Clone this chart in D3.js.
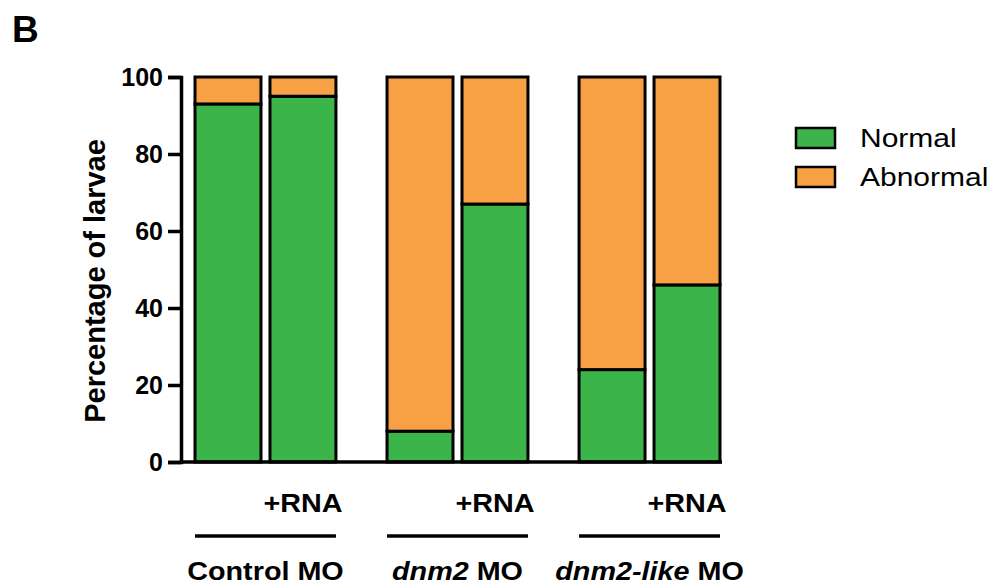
<!DOCTYPE html>
<html>
<head>
<meta charset="utf-8">
<script src="https://cdn.jsdelivr.net/npm/d3@7"></script>
<style>
  html, body { margin: 0; padding: 0; background: #fff; }
  svg { display: block; font-family: "Liberation Sans", Arial, sans-serif; }
</style>
</head>
<body>
<svg id="chart" width="995" height="588"></svg>
<script>
// ---- data ----
const groups = ["Control MO", "dnm2 MO", "dnm2-like MO"];
const conditions = ["", "+RNA"];
const normalValues = [93, 95, 8, 67, 24, 46];   // % Normal per bar (group order, condition order)
const abnormalValues = normalValues.map(v => 100 - v);
const seriesNames = ["Normal", "Abnormal"];
const seriesColors = ["#3BB44A", "#F8A044"];
const yTicks = [0, 20, 40, 60, 80, 100];

// ---- layout ----
const svg = d3.select("#chart");
const axisX = 181;
const y = d3.scaleLinear().domain([0, 100]).range([462, 77]);

const xGroup = d3.scaleBand().domain(groups).range([195, 720]).paddingInner(0.266).paddingOuter(0);
const xBar = d3.scaleBand().domain(conditions).range([0, xGroup.bandwidth()]).paddingInner(0.12);

const bars = [];
groups.forEach((g, gi) => conditions.forEach((c, ci) => {
  const i = gi * conditions.length + ci;
  bars.push({ group: g, cond: c, Normal: normalValues[i], Abnormal: abnormalValues[i] });
}));
const stacked = d3.stack().keys(seriesNames)(bars);

stacked.forEach((layer, li) => {
  svg.append("g").selectAll("rect").data(layer).join("rect")
    .attr("x", d => xGroup(d.data.group) + xBar(d.data.cond))
    .attr("width", xBar.bandwidth())
    .attr("y", d => y(d[1]))
    .attr("height", d => y(d[0]) - y(d[1]))
    .attr("fill", seriesColors[li])
    .attr("stroke", "#000")
    .attr("stroke-width", 3);
});

// y axis
const yAxis = d3.axisLeft(y).tickValues(yTicks).tickSize(13).tickPadding(5).tickFormat(d3.format("d"));
const gy = svg.append("g").attr("transform", `translate(${axisX},0)`).call(yAxis);
gy.select(".domain").attr("stroke", "#000").attr("stroke-width", 3.5);
gy.selectAll(".tick line").attr("stroke", "#000").attr("stroke-width", 3.5);
gy.selectAll(".tick text").attr("fill", "#000").style("font-size", "25px").style("font-weight", "bold")
  .attr("font-family", "Liberation Sans, Arial, sans-serif");

// x baseline
svg.append("line")
  .attr("x1", axisX - 1.5).attr("x2", xGroup.range()[1] + 2)
  .attr("y1", y(0)).attr("y2", y(0))
  .attr("stroke", "#000").attr("stroke-width", 3.5);

// y title
svg.append("text")
  .attr("transform", `translate(105,281) rotate(-90)`)
  .attr("text-anchor", "middle")
  .style("font-size", "29px").style("font-weight", "bold")
  .text("Percentage of larvae");

// +RNA labels and group lines
groups.forEach(g => {
  svg.append("text")
    .attr("transform", `translate(${xGroup(g) + xBar("+RNA") + xBar.bandwidth() / 2},512) scale(1.15,1)`)
    .attr("text-anchor", "middle")
    .style("font-size", "25px").style("font-weight", "bold")
    .text("+RNA");
  svg.append("line")
    .attr("x1", xGroup(g)).attr("x2", xGroup(g) + xGroup.bandwidth())
    .attr("y1", 536).attr("y2", 536)
    .attr("stroke", "#000").attr("stroke-width", 3.5);
});

// group labels (gene names italic)
const groupLabelParts = [
  [["Control MO", "normal"]],
  [["dnm2", "italic"], [" MO", "normal"]],
  [["dnm2-like", "italic"], [" MO", "normal"]]
];
groups.forEach((g, gi) => {
  const t = svg.append("text")
    .attr("transform", `translate(${xGroup(g) + xGroup.bandwidth() / 2},580) scale(1.15,1)`)
    .attr("text-anchor", "middle")
    .style("font-size", "25px").style("font-weight", "bold");
  groupLabelParts[gi].forEach(([s, st]) => t.append("tspan").style("font-style", st).text(s));
});

// legend
const legend = svg.append("g");
seriesNames.forEach((s, i) => {
  legend.append("rect")
    .attr("x", 796).attr("y", 128 + i * 39)
    .attr("width", 39).attr("height", 20)
    .attr("fill", seriesColors[i]).attr("stroke", "#000").attr("stroke-width", 2.5);
  legend.append("text")
    .attr("transform", `translate(860,${147 + i * 39}) scale(1.2,1)`)
    .style("font-size", "25px")
    .text(s);
});

// panel letter
svg.append("text").attr("x", 12).attr("y", 42)
  .style("font-size", "37px").style("font-weight", "bold").text("B");
</script>
</body>
</html>
